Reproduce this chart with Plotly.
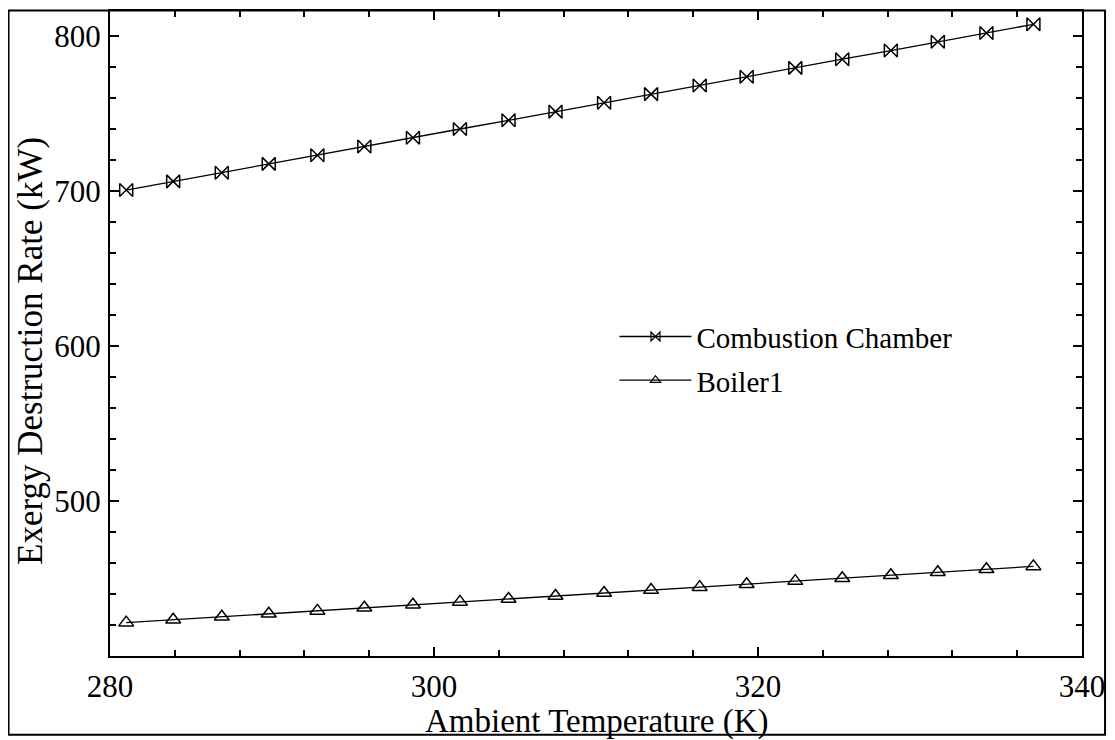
import plotly.graph_objects as go

temperature = [281.0, 283.9, 286.9, 289.8, 292.8, 295.7, 298.7, 301.6, 304.6, 307.5,
               310.5, 313.4, 316.4, 319.3, 322.3, 325.2, 328.2, 331.1, 334.1, 337.0]
combustion_chamber = [700.5, 706.1, 711.7, 717.4, 723.0, 728.6, 734.2, 739.9, 745.5, 751.1,
                      756.8, 762.4, 768.0, 773.6, 779.3, 784.9, 790.5, 796.2, 801.8, 807.4]
boiler1 = [421.5, 423.4, 425.3, 427.2, 429.1, 431.1, 433.0, 434.9, 436.8, 438.7,
           440.6, 442.5, 444.4, 446.3, 448.3, 450.2, 452.1, 454.0, 455.9, 457.8]
series_names = ["Combustion Chamber", "Boiler1"]
x_tick_vals = [280, 300, 320, 340]
y_tick_vals = [500, 600, 700, 800]
x_title = "Ambient Temperature (K)"
y_title = "Exergy Destruction Rate (kW)"

FONT = "Liberation Serif, Times New Roman, serif"

fig = go.Figure()
fig.add_trace(go.Scatter(
    x=temperature, y=combustion_chamber, mode="lines+markers", name=series_names[0],
    line=dict(color="black", width=1.3),
    marker=dict(symbol="bowtie-open", size=13, color="black", line=dict(width=1.5, color="black")),
    showlegend=False))
fig.add_trace(go.Scatter(
    x=temperature, y=boiler1, mode="lines+markers", name=series_names[1],
    line=dict(color="black", width=1.3),
    marker=dict(symbol="triangle-up-open", size=13, color="black", line=dict(width=1.5, color="black")),
    showlegend=False))
# legend-only entries with smaller markers
fig.add_trace(go.Scatter(
    x=[None], y=[None], mode="lines+markers", name=series_names[0], legendgroup="a",
    line=dict(color="black", width=1.3),
    marker=dict(symbol="bowtie-open", size=9, color="black", line=dict(width=1.2, color="black"))))
fig.add_trace(go.Scatter(
    x=[None], y=[None], mode="lines+markers", name=series_names[1], legendgroup="b",
    line=dict(color="black", width=1.3),
    marker=dict(symbol="triangle-up-open", size=9, color="black", line=dict(width=1.2, color="black"))))

axis_common = dict(
    showline=True, linewidth=2, linecolor="black", mirror="ticks",
    ticks="inside", tickcolor="black", tickwidth=1.5, ticklen=9,
    showgrid=False, zeroline=False,
    tickfont=dict(family=FONT, size=31, color="black"),
)

fig.update_xaxes(
    range=[280, 340], tickvals=x_tick_vals,
    minor=dict(dtick=4, tick0=280, ticks="inside", ticklen=6, tickcolor="black", tickwidth=1.5),
    ticklabelstandoff=2,
    **axis_common)
fig.update_yaxes(
    range=[400, 816], tickvals=y_tick_vals,
    minor=dict(dtick=20, tick0=400, ticks="inside", ticklen=6, tickcolor="black", tickwidth=1.5),
    ticklabelstandoff=1,
    **axis_common)

# axis titles
fig.add_annotation(text=x_title, xref="paper", yref="paper", x=0.5, y=-0.1012,
                   xanchor="center", yanchor="middle", showarrow=False,
                   font=dict(family=FONT, size=33, color="black"))
fig.add_annotation(text=y_title, xref="paper", yref="paper", x=-0.0813, y=0.473,
                   xanchor="center", yanchor="middle", textangle=-90, showarrow=False,
                   font=dict(family=FONT, size=35, color="black"))

# outer frame around the whole picture
fig.add_shape(type="rect", xref="paper", yref="paper",
              x0=-0.1044, x1=1.0237, y0=-0.1221, y1=1.0008,
              line=dict(color="black", width=2), fillcolor="rgba(0,0,0,0)", layer="above")

fig.update_layout(
    width=1107, height=732,
    margin=dict(l=102, r=33, t=1, b=84),
    paper_bgcolor="white", plot_bgcolor="white",
    font=dict(family=FONT, color="black"),
    legend=dict(x=0.519, y=0.461, xanchor="left", yanchor="middle",
                bgcolor="rgba(0,0,0,0)", font=dict(family=FONT, size=29, color="black"),
                traceorder="grouped", tracegroupgap=3, itemwidth=72),
)

fig.write_html("out.html")
